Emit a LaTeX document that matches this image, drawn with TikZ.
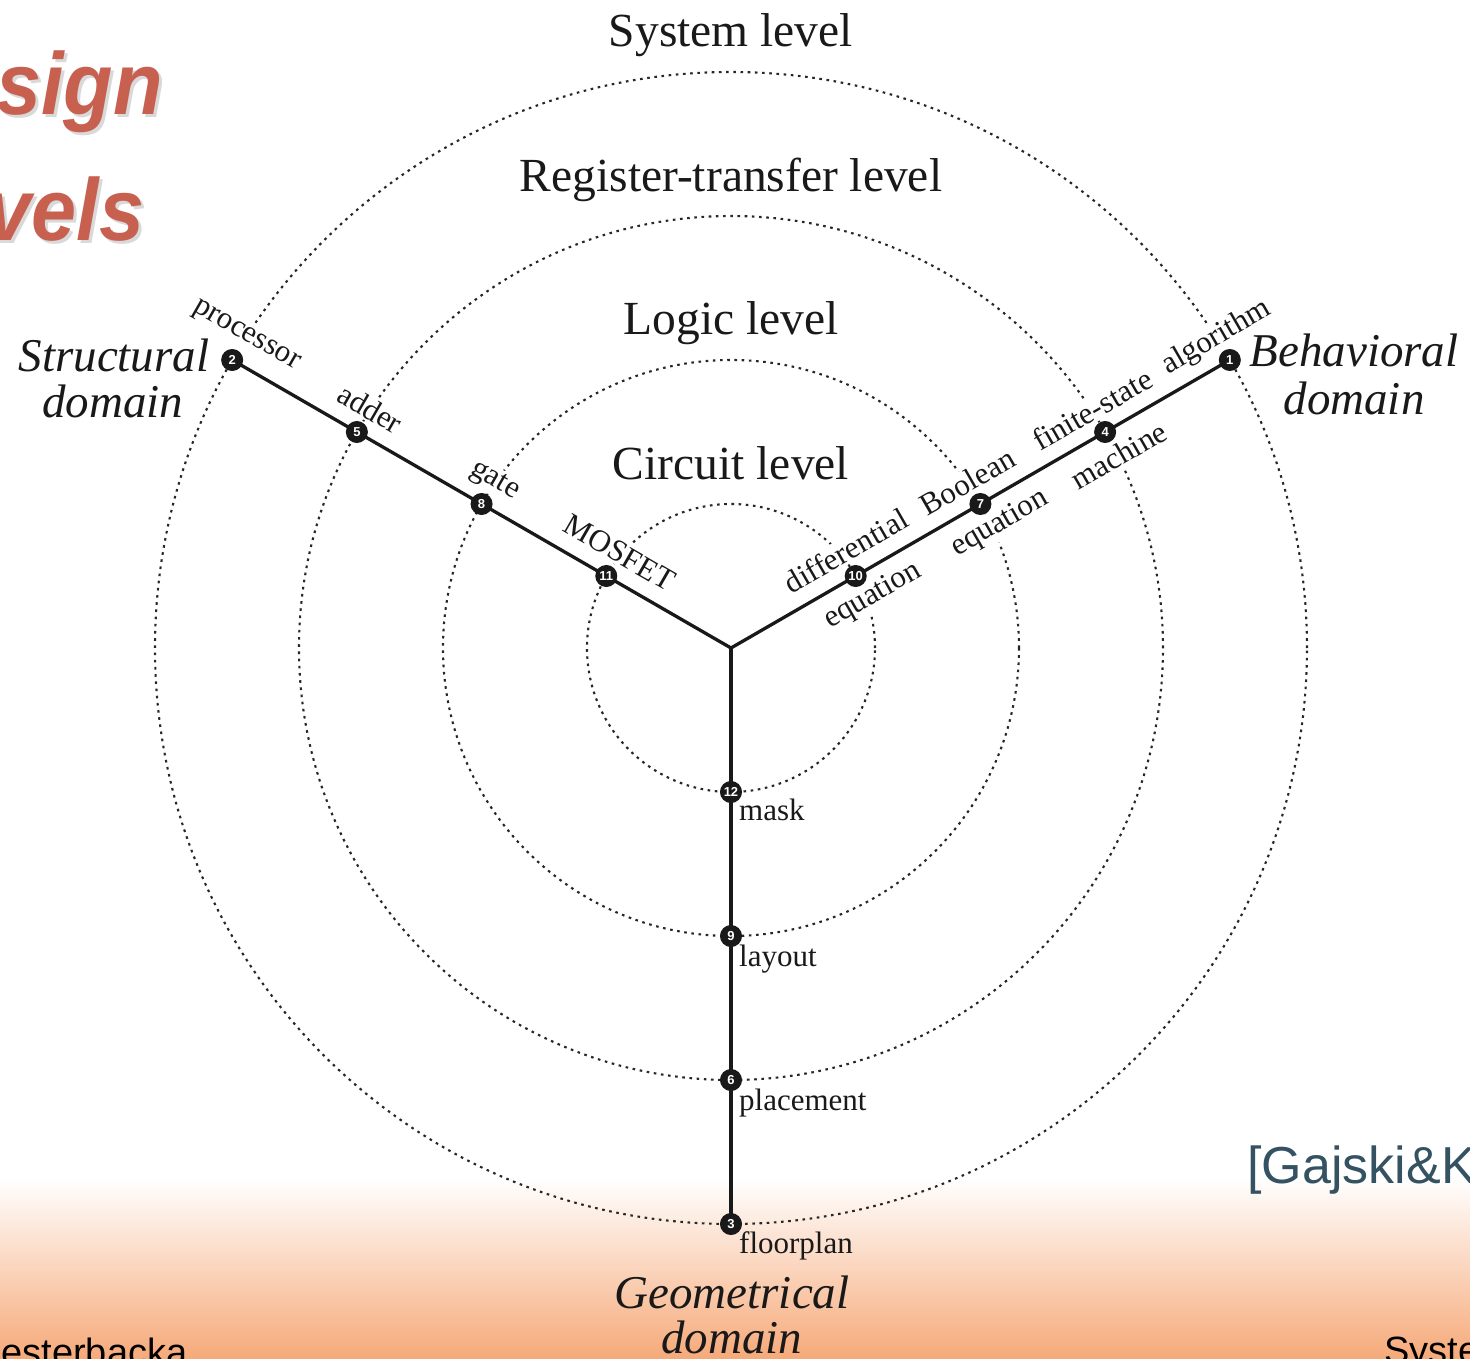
\documentclass[tikz,border=0pt]{standalone}
\usepackage{fontspec}
\setmainfont{Liberation Serif}
\newfontfamily\sansf{Liberation Sans}
\usetikzlibrary{calc}
\definecolor{peach}{RGB}{246,170,122}
\definecolor{titlered}{RGB}{200,96,80}
\definecolor{slate}{RGB}{52,82,98}
\begin{document}
\begin{tikzpicture}[x=1pt,y=1pt,
  lvl/.style={draw=black!85, line width=2.1pt, dash pattern=on 2.6pt off 4.6pt},
  arm/.style={line width=3.3pt, draw=black!90},
  num/.style={circle, fill=black!90, draw=black!90, line width=1pt, text=white, inner sep=0pt, minimum size=21pt,
              font=\sansf\bfseries\fontsize{13}{13}\selectfont},
  lab/.style={font=\fontsize{31}{33}\selectfont, text=black!90, fill=white, inner sep=2pt},
  vlab/.style={font=\fontsize{31}{33}\selectfont, text=black!90, anchor=base west, inner sep=0pt},
  levellab/.style={font=\fontsize{47.5}{50}\selectfont, text=black!90, anchor=base},
  domlab/.style={font=\itshape\fontsize{47}{50}\selectfont, text=black!90, anchor=base},
  titletext/.style={anchor=base east, font=\sansf\bfseries\itshape\fontsize{88}{88}\selectfont},
  foot/.style={anchor=base west, font=\sansf\fontsize{38}{40}\selectfont, text=black}
]
\useasboundingbox (-731,-710) rectangle (739,648);
\fill[white] (-731,-710) rectangle (739,648);
\shade[top color=white, bottom color=peach] (-731,-710) rectangle (739,-530);

% title fragments
\node[titletext, text=black!15] (t1s) at (-562,530) {\scalebox{0.92}[1]{sign}};
\node[titletext, text=titlered] (t1) at (-565,533) {\scalebox{0.92}[1]{sign}};
\node[titletext, text=black!15] (t2s) at (-580,404) {\scalebox{0.92}[1]{vels}};
\node[titletext, text=titlered] (t2) at (-583,407) {\scalebox{0.92}[1]{vels}};

% reference and footer fragments
\node[anchor=base west, font=\sansf\fontsize{52}{54}\selectfont, text=slate] (ref) at (513,-535) {[Gajski\&K};
\node[foot] (f1) at (-733,-717) {esterbacka};
\node[foot] (f2) at (650,-715) {Syste};

% positions
\coordinate (O) at (0,0);
\foreach \i/\a/\r in {1/30/576, 2/150/576, 3/270/576, 4/30/432, 5/150/432, 6/270/432,
                      7/30/288, 8/150/288, 9/270/288, 10/30/144, 11/150/144, 12/270/144}
  \coordinate (p\i) at (\a:\r);

% level circles
\draw[lvl] (O) circle[radius=144];
\draw[lvl] (O) circle[radius=288];
\draw[lvl] (O) circle[radius=432];
\draw[lvl] (O) circle[radius=576];

% level labels
\node[levellab] (lsys) at (0,601) {System level};
\node[levellab] (lrtl) at (0,456) {Register-transfer level};
\node[levellab] (llog) at (0,313) {Logic level};
\node[levellab] (lcir) at (0,168) {Circuit level};

% domain labels
\node[domlab] (sd1) at (-617,276) {Structural};
\node[domlab] (sd2) at (-618,230) {domain};
\node[domlab] (bd1) at (623,281) {Behavioral};
\node[domlab] (bd2) at (623,233) {domain};
\node[domlab] (gd1) at (1,-660) {Geometrical};
\node[domlab] (gd2) at (1,-705) {domain};

% structural arm labels
\node[lab, rotate=-30] (lproc) at ($(p2)+(60:27)$) {processor};
\node[lab, rotate=-30] (ladd) at ($(p5)+(60:27)$) {adder};
\node[lab, rotate=-30] (lgate) at ($(p8)+(60:26)$) {gate};
\node[lab, rotate=-30] (lmos) at ($(p11)+(60:27)$) {MOSFET};

% behavioral arm labels
\node[lab, rotate=30] (lalg) at ($(p1)+(120:26)$) {algorithm};
\node[lab, rotate=30] (lfsm) at ($(p4)+(120:26)$) {finite-state};
\node[lab, rotate=30] (lmach) at ($(p4)+(-60:27)$) {machine};
\node[lab, rotate=30] (lbool) at ($(p7)+(120:26)$) {Boolean};
\node[lab, rotate=30] (leq1) at ($(p7)+(-60:27)+(30:7)$) {equation};
\node[lab, rotate=30] (ldiff) at ($(p10)+(120:27)+(30:4)$) {differential};
\node[lab, rotate=30] (leq2) at ($(p10)+(-60:26)+(30:5)$) {equation};

% geometrical arm labels
\node[vlab] (lmask) at ($(p12)+(8,-28)$) {mask};
\node[vlab] (llay) at ($(p9)+(8,-30)$) {layout};
\node[vlab] (lplac) at ($(p6)+(8,-30)$) {placement};
\node[vlab] (lfloor) at ($(p3)+(8,-29)$) {floorplan};

% arms
\draw[arm] (O) -- (p11) -- (p8) -- (p5) -- (p2);
\draw[arm] (O) -- (p10) -- (p7) -- (p4) -- (p1);
\draw[arm] (O) -- (p12) -- (p9) -- (p6) -- (p3);

% numbered dots
\foreach \i in {1,...,12}
  \node[num] (n\i) at (p\i) {\i};
\end{tikzpicture}
\end{document}
